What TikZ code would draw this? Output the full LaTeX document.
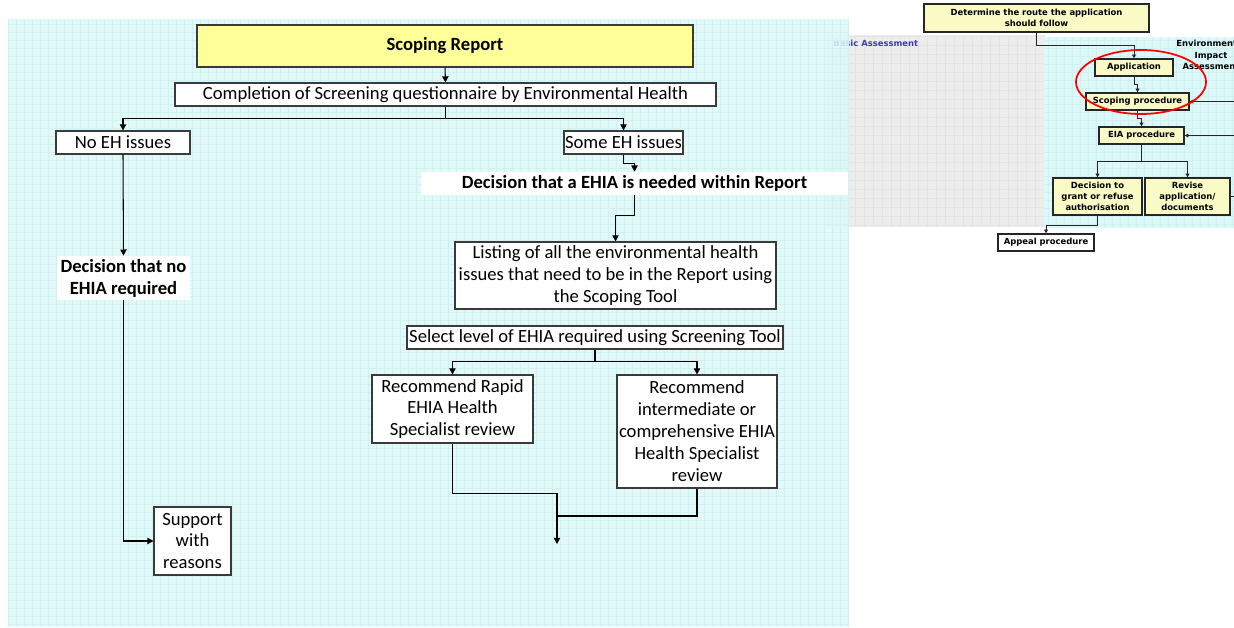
\documentclass[tikz,border=0pt]{standalone}
\usepackage{fontspec}
\setmainfont{Carlito}
\newfontfamily\shotfont{DejaVu Sans}
\usepackage{xcolor}
\usepackage{tikz}
\usetikzlibrary{arrows.meta}
\definecolor{panelcyan}{HTML}{DDF8F8}
\definecolor{panelgrid}{HTML}{CFF1F2}
\definecolor{reportyellow}{HTML}{FFFF99}
\definecolor{shotgray}{HTML}{EDEDED}
\definecolor{shotgrid}{HTML}{E4E4E4}
\definecolor{shotyellow}{HTML}{FAFAC6}
\definecolor{basicblue}{HTML}{3F3FA8}
\definecolor{boxline}{HTML}{3A3A3A}
\newdimen\pxu \pxu=0.02cm

\tikzset{
  flowbox/.style={draw=boxline, line width=0.6pt, fill=white, align=center, inner sep=0pt,
    font=\fontsize{10.6}{12.5}\selectfont},
  flowlabel/.style={fill=white, align=center, inner sep=0pt,
    font=\fontsize{10.6}{12.5}\selectfont\bfseries},
  shotbox/.style={draw=black!85, line width=0.7pt, fill=shotyellow, align=center, inner sep=0pt,
    font=\shotfont\bfseries\fontsize{4.8}{6.3}\selectfont},
  shottext/.style={align=center, inner sep=0pt, font=\shotfont\bfseries\fontsize{4.8}{6.5}\selectfont},
  flowarrow/.style={draw=black, line width=0.6pt, -{Triangle[length=3.5pt,width=3.6pt]}},
  flowline/.style={draw=black, line width=0.6pt},
  shotarrow/.style={draw=black!85, line width=0.5pt, -{Triangle[length=2.2pt,width=2.2pt]}},
  shotline/.style={draw=black!85, line width=0.5pt},
}

\begin{document}
\begin{tikzpicture}[x=1\pxu, y=-1\pxu]
  \useasboundingbox (0,0) rectangle (1234,628);
  \clip (0,0) rectangle (1234,628);

  % screenshot of the EIA route
  \fill[shotgray] (826,35) rectangle (1044,227);
  \draw[shotgrid, line width=0.15pt, step=9\pxu] (826,35) grid (1044,227);
  \fill[panelcyan] (1044,37) rectangle (1234,228);
  \draw[panelgrid, line width=0.15pt, step=8\pxu] (1044,37) grid (1234,228);
  \node[shottext, anchor=west, text=basicblue] (basic) at (833,43.5) {Basic Assessment};
  \node[shottext] (eiatitle) at (1211,55) {Environmental\\Impact\\Assessment};

  % main panel
  \fill[panelcyan, fill opacity=0.85] (8,19) rectangle (848,627);
  \draw[panelgrid, line width=0.15pt, step=8\pxu] (8,19) grid (848,627);

  \node[shotbox, minimum width=225\pxu, minimum height=28\pxu] (route) at (1036.5,18)
    {Determine the route the application\\should follow};
  \node[shotbox, minimum width=78\pxu, minimum height=17\pxu] (app) at (1134,67.5) {Application};
  \node[shotbox, minimum width=103\pxu, minimum height=17\pxu] (scopproc) at (1137.5,101.5) {Scoping procedure};
  \node[shotbox, minimum width=85\pxu, minimum height=17\pxu] (eiaproc) at (1141.5,135.5) {EIA procedure};
  \node[shotbox, minimum width=89\pxu, minimum height=37\pxu] (decide) at (1097.5,196.5)
    {Decision to\\grant or refuse\\authorisation};
  \node[shotbox, minimum width=85\pxu, minimum height=37\pxu] (revise) at (1187.5,196.5)
    {Revise\\application/\\documents};
  \node[shotbox, fill=white, minimum width=96\pxu, minimum height=17\pxu] (appeal) at (1046,242.5) {Appeal procedure};
  \coordinate (inscop) at (1240,101.5);
  \coordinate (ineia) at (1240,135.5);
  \coordinate (outrev) at (1240,196.5);

  \draw[shotarrow] (route.south) -- ++(0,13) -| (app.north);
  \draw[shotarrow] (app.south) -- ++(0,8) -| (scopproc.north);
  \draw[shotarrow] (scopproc.south) -- ++(0,8) -| (eiaproc.north);
  \draw[shotline] (eiaproc.south) -- ++(0,17) coordinate (eiasplit);
  \draw[shotarrow] (eiasplit) -| (decide.north);
  \draw[shotarrow] (eiasplit) -| (revise.north);
  \draw[shotarrow] (decide.south) -- ++(0,10) -| (appeal.north);
  \draw[shotarrow] (inscop) -- (scopproc.east);
  \draw[shotarrow] (ineia) -- (eiaproc.east);
  \draw[shotline] (revise.east) -- (outrev);
  \draw[red, line width=1pt] (1141,82) ellipse [x radius=65\pxu, y radius=32\pxu];

  % scoping flow
  \node[flowbox, fill=reportyellow, minimum width=496\pxu, minimum height=42\pxu,
    font=\fontsize{10.6}{12.5}\selectfont\bfseries] (scoping) at (445,46) {Scoping Report};
  \node[flowbox, minimum width=541\pxu, minimum height=23\pxu] (completion) at (445.5,94.5)
    {Completion of Screening questionnaire by Environmental Health};
  \node[flowbox, minimum width=134\pxu, minimum height=23\pxu] (noeh) at (123,142.5) {No EH issues};
  \node[flowbox, minimum width=119\pxu, minimum height=23\pxu] (someeh) at (623.5,142.5) {Some EH issues};
  \node[flowlabel, minimum width=427\pxu, minimum height=23\pxu] (needed) at (634.5,183.5)
    {Decision that a EHIA is needed within Report};
  \node[flowbox, minimum width=321\pxu, minimum height=67\pxu] (listing) at (615.5,275.5)
    {Listing of all the environmental health\\issues that need to be in the Report using\\the Scoping Tool};
  \node[flowbox, minimum width=376\pxu, minimum height=23\pxu] (select) at (595,337.5)
    {Select level of EHIA required using Screening Tool};
  \node[flowbox, minimum width=161\pxu, minimum height=68\pxu] (rapid) at (452.5,409)
    {Recommend Rapid\\EHIA Health\\Specialist review};
  \node[flowbox, minimum width=160\pxu, minimum height=113\pxu] (fuller) at (697,431.5)
    {Recommend\\intermediate or\\comprehensive EHIA\\Health Specialist\\review};
  \node[flowlabel, minimum width=133\pxu, minimum height=44\pxu] (noehia) at (123.5,278)
    {Decision that no\\EHIA required};
  \node[flowbox, minimum width=77\pxu, minimum height=68\pxu] (support) at (192.5,541)
    {Support\\with\\reasons};
  \coordinate (merge) at (557,516);
  \coordinate (outlet) at (557,544);

  \draw[flowarrow] (scoping.south) -- (completion.north);
  \draw[flowline] (completion.south) -- ++(0,12) coordinate (ehsplit);
  \draw[flowarrow] (ehsplit) -| (noeh.north);
  \draw[flowarrow] (ehsplit) -| (someeh.north);
  \draw[flowarrow] (someeh.south) -- ++(0,9) -| (needed.north);
  \draw[flowarrow] (needed.south) -- ++(0,20) -| (listing.north);
  \draw[flowline] (select.south) -- ++(0,12) coordinate (levelsplit);
  \draw[flowarrow] (levelsplit) -| (rapid.north);
  \draw[flowarrow] (levelsplit) -| (fuller.north);
  \draw[flowline] (rapid.south) -- ++(0,50) -| (merge);
  \draw[flowline] (fuller.south) |- (merge);
  \draw[flowarrow] (merge) -- (outlet);
  \draw[flowarrow] (noeh.south) -- (noehia.north);
  \draw[flowarrow] (noehia.south) |- (support.west);
\end{tikzpicture}
\end{document}
